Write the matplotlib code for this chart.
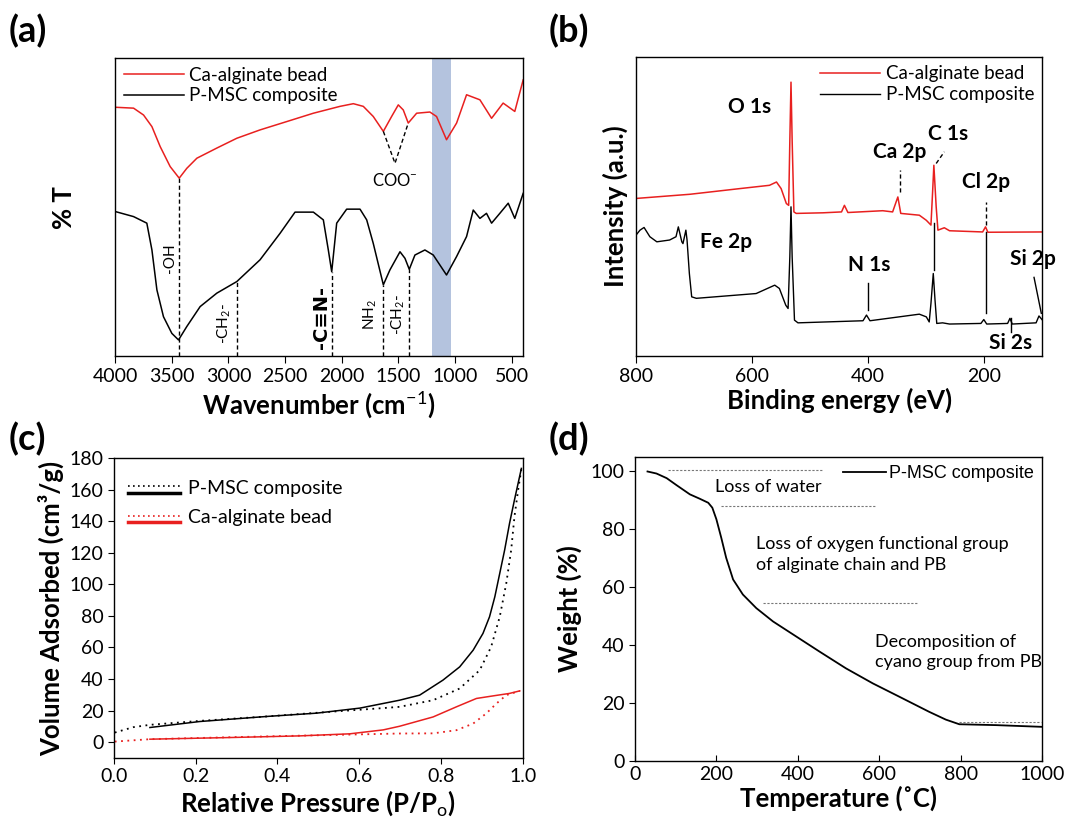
import numpy as np
import matplotlib
matplotlib.use('Agg')
import matplotlib.pyplot as plt

plt.rcParams['font.family'] = ['Lato', 'DejaVu Sans']
plt.rcParams['mathtext.fontset'] = 'custom'
plt.rcParams['mathtext.rm'] = 'Lato'
plt.rcParams['mathtext.bf'] = 'Lato:bold'
plt.rcParams['axes.linewidth'] = 1.0

# ---- (a) FTIR ----
ftir_wn_ca = [4000, 3838, 3750, 3676, 3603, 3515, 3435, 3368, 3279, 3103, 2926, 2721, 2485,
              2250, 2015, 1897, 1809, 1721, 1632, 1559, 1500, 1456, 1412, 1338, 1221, 1162,
              1074, 985, 897, 779, 676, 574, 471, 397]
ftir_t_ca = [83.5, 83.2, 80.9, 77.0, 70.3, 63.6, 59.7, 63.0, 66.4, 69.8, 73.1, 75.9, 78.7,
             81.5, 83.8, 84.7, 83.8, 80.4, 75.4, 80.4, 84.3, 82.6, 78.2, 81.5, 81.9, 80.4,
             72.6, 78.2, 87.7, 86.0, 79.8, 84.9, 82.1, 92.7]
ftir_wn_pmsc = [4000, 3838, 3721, 3676, 3632, 3574, 3500, 3441, 3368, 3250, 3103, 2926, 2721,
                2544, 2412, 2250, 2162, 2118, 2088, 2044, 1956, 1838, 1779, 1721, 1632, 1574,
                1485, 1441, 1403, 1353, 1265, 1191, 1074, 985, 897, 838, 779, 721, 676, 603,
                529, 471, 397]
ftir_t_pmsc = [48.5, 46.8, 44.6, 35.6, 22.2, 13.2, 7.6, 5.4, 9.9, 16.6, 21.1, 25.0, 32.3,
               41.2, 48.3, 48.3, 45.7, 35.6, 28.3, 44.6, 49.3, 49.3, 45.7, 37.8, 23.9, 28.9,
               35.0, 32.8, 29.1, 33.9, 35.6, 33.9, 27.2, 33.4, 40.1, 49.0, 46.2, 47.9, 44.6,
               47.9, 51.3, 46.2, 54.6]

# ---- (b) XPS survey ----
xps_be_ca = [800, 707, 621, 570, 558, 550, 541, 537, 535, 533, 531, 528, 524, 478, 446, 441,
             435, 375, 358, 349, 344, 312, 300, 292, 289, 287, 283, 280, 269, 260, 203, 198,
             194, 100]
xps_i_ca = [52.7, 54.1, 56.0, 57.1, 58.2, 56.0, 51.0, 50.4, 72.0, 91.6, 72.0, 48.2, 47.7,
            47.9, 48.2, 50.4, 48.0, 48.6, 48.2, 53.2, 47.7, 47.1, 45.4, 43.8, 55.5, 63.8,
            49.9, 42.1, 42.9, 41.9, 41.5, 43.2, 41.4, 41.5]
xps_be_pmsc = [800, 793, 786, 776, 764, 742, 731, 727, 721, 719, 714, 712, 708, 704, 696, 593,
               561, 553, 542, 538, 535, 533, 531, 527, 521, 409, 403, 397, 312, 300, 295, 292,
               288, 285, 282, 272, 260, 206, 201, 196, 160, 156, 152, 111, 106, 100]
xps_i_pmsc = [40.4, 42.1, 43.0, 39.9, 38.2, 38.8, 39.9, 43.2, 38.2, 37.6, 42.1, 38.8, 27.6,
              19.8, 19.3, 20.9, 23.7, 22.6, 17.0, 15.9, 33.2, 49.9, 33.2, 12.0, 11.1, 11.8,
              13.7, 11.8, 14.0, 13.1, 11.4, 17.6, 27.6, 18.7, 10.9, 11.1, 10.7, 10.9, 12.2,
              10.7, 10.9, 12.6, 10.7, 11.1, 13.4, 12.0]

# ---- (c) N2 isotherms ----
p_ads = [0.002, 0.047, 0.088, 0.21, 0.374, 0.537, 0.659, 0.699, 0.781, 0.846, 0.895, 0.923,
         0.944, 0.960, 0.972, 0.980, 0.989, 0.997]
v_pmsc_ads = [6.1, 9.5, 11.0, 13.5, 16.3, 19.4, 21.6, 22.4, 26.6, 34.0, 45.6, 60.4, 79.4,
              100.6, 121.7, 142.8, 159.7, 173.0]
p_des = [0.088, 0.21, 0.374, 0.496, 0.602, 0.699, 0.748, 0.805, 0.846, 0.879, 0.903, 0.919,
         0.932, 0.944, 0.956, 0.968, 0.980, 0.989, 0.997]
v_pmsc_des = [9.3, 13.1, 16.3, 18.4, 21.6, 26.6, 29.8, 39.3, 47.7, 58.3, 68.9, 79.4, 92.1,
              106.9, 121.7, 138.6, 153.4, 164.0, 173.4]
p_ca_ads = [0.002, 0.088, 0.292, 0.537, 0.699, 0.781, 0.838, 0.879, 0.911, 0.936, 0.960,
            0.993]
v_ca_ads = [0.4, 1.9, 3.2, 4.6, 5.5, 5.6, 7.6, 11.8, 18.2, 24.5, 29.8, 32.5]
p_ca_des = [0.088, 0.292, 0.455, 0.577, 0.659, 0.699, 0.781, 0.838, 0.887, 0.927, 0.968,
            0.993]
v_ca_des = [1.9, 3.0, 4.0, 5.3, 7.8, 10.1, 16.0, 22.4, 27.7, 29.3, 30.9, 32.5]

# ---- (d) TGA ----
tga_temp = [31, 53, 78, 102, 135, 159, 180, 190, 200, 212, 224, 241, 265, 298, 339, 396, 453,
            518, 584, 649, 722, 763, 796, 886, 1000]
tga_weight = [100, 99.3, 97.7, 95.3, 92.1, 90.6, 89.2, 87.5, 83.5, 77.1, 70.2, 62.7, 57.5,
              52.8, 48.2, 43.0, 37.8, 32.0, 26.8, 22.2, 17.0, 14.3, 12.7, 12.4, 11.8]

fig = plt.figure(figsize=(10.67, 8.23), dpi=100)
axa = fig.add_axes([0.108, 0.5674, 0.382, 0.362])
axb = fig.add_axes([0.596, 0.5674, 0.381, 0.3633])
axc = fig.add_axes([0.1068, 0.079, 0.383, 0.3645])
axd = fig.add_axes([0.595, 0.0753, 0.382, 0.3694])

tick_fs = 14
lab_fs = 18.5
red = '#e8201f'

# (a)
axa.axvspan(1206, 1038, color='#b4c3de', lw=0)
axa.plot(ftir_wn_ca, ftir_t_ca, color=red, lw=1.1, label='Ca-alginate bead')
axa.plot(ftir_wn_pmsc, ftir_t_pmsc, color='black', lw=1.1, label='P-MSC composite')
axa.set_xlim(4000, 400)
axa.set_ylim(0, 100)
axa.set_yticks([])
axa.set_xticks([4000, 3500, 3000, 2500, 2000, 1500, 1000, 500])
axa.tick_params(axis='x', labelsize=tick_fs, direction='out', length=5)
axa.set_xlabel('Wavenumber (cm$^{-1}$)', fontsize=lab_fs, fontweight='bold', labelpad=2)
axa.set_ylabel('% T', fontsize=lab_fs, fontweight='bold', labelpad=28)
dash = dict(color='black', lw=1.0, ls=(0, (3, 2)))
for wn, top in [(3441, 59.7), (2926, 25.0), (2088, 28.3), (1632, 23.9), (1403, 29.1)]:
    axa.plot([wn, wn], [0, top], **dash)
axa.plot([1632, 1529, 1412], [75.4, 64.7, 78.2], **dash)
axa.text(1529, 59.0, 'COO$^{-}$', ha='center', va='center', fontsize=12)
axa.text(3515, 33, '-OH', rotation=90, ha='center', va='center', fontsize=11)
axa.text(3040, 11, '-CH$_2$-', rotation=90, ha='center', va='center', fontsize=11)
axa.text(2180, 13, '-C≡N-', rotation=90, ha='center', va='center', fontsize=14,
         fontweight='bold', family=['DejaVu Sans'])
axa.text(1750, 14, 'NH$_2$', rotation=90, ha='center', va='center', fontsize=11)
axa.text(1500, 14, '-CH$_2$-', rotation=90, ha='center', va='center', fontsize=11)
axa.legend(loc='upper left', frameon=False, fontsize=13.5, handlelength=3.2,
           borderaxespad=0.05, labelspacing=0.2, handletextpad=0.3)

# (b)
axb.plot(xps_be_ca, xps_i_ca, color=red, lw=1.1, label='Ca-alginate bead')
axb.plot(xps_be_pmsc, xps_i_pmsc, color='black', lw=1.0, label='P-MSC composite')
axb.set_xlim(800, 100)
axb.set_ylim(0, 100)
axb.set_yticks([])
axb.set_xticks([800, 600, 400, 200])
axb.tick_params(axis='x', labelsize=tick_fs, direction='out', length=5)
axb.set_xlabel('Binding energy (eV)', fontsize=lab_fs, fontweight='bold', labelpad=2)
axb.set_ylabel('Intensity (a.u.)', fontsize=lab_fs, fontweight='bold', labelpad=6)
bold = dict(fontsize=15, fontweight='bold', ha='center', va='center')
axb.text(605, 83.3, 'O 1s', **bold)
axb.text(346, 68.3, 'Ca 2p', **bold)
axb.text(262, 74.3, 'C 1s', **bold)
axb.text(197, 58.2, 'Cl 2p', **bold)
axb.text(645, 38.2, 'Fe 2p', **bold)
axb.text(399, 30.4, 'N 1s', **bold)
axb.text(117, 32.6, 'Si 2p', **bold)
axb.text(155, 4.2, 'Si 2s', **bold)
axb.plot([346, 346], [54.9, 62.1], **dash)
axb.plot([283, 269], [64.4, 68.3], **dash)
axb.plot([197, 197], [43.8, 51.6], **dash)
solid = dict(color='black', lw=1.0)
axb.plot([400, 400], [15.4, 24.5], **solid)
axb.plot([286, 286], [28.7, 44.5], **solid)
axb.plot([198, 198], [14.3, 41.5], **solid)
axb.plot([114.5, 102], [26.3, 14.3], **solid)
axb.plot([154, 154], [8.1, 12.6], **solid)
axb.legend(loc='upper right', frameon=False, fontsize=13.5, handlelength=3.2,
           borderaxespad=0.05, labelspacing=0.2, handletextpad=0.3)

# (c)
axc.plot(p_ads, v_pmsc_ads, color='black', lw=1.3, ls=(0, (1, 2.5)))
axc.plot(p_des, v_pmsc_des, color='black', lw=1.1)
axc.plot(p_ca_ads, v_ca_ads, color=red, lw=1.3, ls=(0, (1, 2.5)))
axc.plot(p_ca_des, v_ca_des, color=red, lw=1.1)
axc.set_xlim(0, 1.0)
axc.set_ylim(-10, 180)
axc.set_xticks([0.0, 0.2, 0.4, 0.6, 0.8, 1.0])
axc.set_xticklabels(['0.0', '0.2', '0.4', '0.6', '0.8', '1.0'])
axc.set_yticks(range(0, 181, 20))
axc.tick_params(labelsize=tick_fs, direction='out', length=4)
axc.set_xlabel('Relative Pressure (P/P$_\\mathrm{o}$)', fontsize=lab_fs, fontweight='bold',
               labelpad=2)
axc.set_ylabel('Volume Adsorbed (cm³/g)', fontsize=lab_fs, fontweight='bold', labelpad=4)
for yd, ys, col, name in [(0.906, 0.883, 'black', 'P-MSC composite'),
                          (0.808, 0.786, red, 'Ca-alginate bead')]:
    axc.plot([0.035, 0.161], [yd, yd], color=col, lw=1.2, ls=(0, (1, 2)),
             transform=axc.transAxes)
    axc.plot([0.035, 0.161], [ys, ys], color=col, lw=2.5, transform=axc.transAxes)
    axc.text(0.182, (yd + ys) / 2 + 0.005, name, transform=axc.transAxes, fontsize=14,
             va='center', ha='left')

# (d)
axd.plot(tga_temp, tga_weight, color='black', lw=1.3, label='P-MSC composite')
axd.set_xlim(0, 1000)
axd.set_ylim(0, 105)
axd.set_xticks(range(0, 1001, 200))
axd.set_yticks(range(0, 101, 20))
axd.tick_params(labelsize=tick_fs, length=4)
axd.tick_params(axis='x', direction='in')
axd.tick_params(axis='y', direction='out')
axd.set_xlabel('Temperature (˚C)', fontsize=lab_fs, fontweight='bold', labelpad=2)
axd.set_ylabel('Weight (%)', fontsize=lab_fs, fontweight='bold', labelpad=6)
dot = dict(color='#777777', lw=0.8, ls=(0, (2, 1.5)))
axd.plot([82, 460], [100.6, 100.6], **dot)
axd.plot([212, 588], [88.1, 88.1], **dot)
axd.plot([314, 694], [54.6, 54.6], **dot)
axd.plot([796, 996], [13.5, 13.5], **dot)
axd.text(196, 94.5, 'Loss of water', fontsize=13, va='center', ha='left')
axd.text(298, 71.3, 'Loss of oxygen functional group\nof alginate chain and PB', fontsize=13,
         va='center', ha='left', linespacing=1.35)
axd.text(588, 37.7, 'Decomposition of\ncyano group from PB', fontsize=13, va='center',
         ha='left', linespacing=1.35)
axd.legend(loc='upper right', frameon=False, handlelength=2.4, borderaxespad=0.05,
           handletextpad=0.2, prop={'family': ['Liberation Sans'], 'size': 13})

for lab, x, y in [('(a)', 0.008, 0.962), ('(b)', 0.514, 0.962),
                  ('(c)', 0.008, 0.466), ('(d)', 0.514, 0.466)]:
    fig.text(x, y, lab, fontsize=26, fontweight='bold', va='center', ha='left')

fig.savefig('out.png', dpi=100)
